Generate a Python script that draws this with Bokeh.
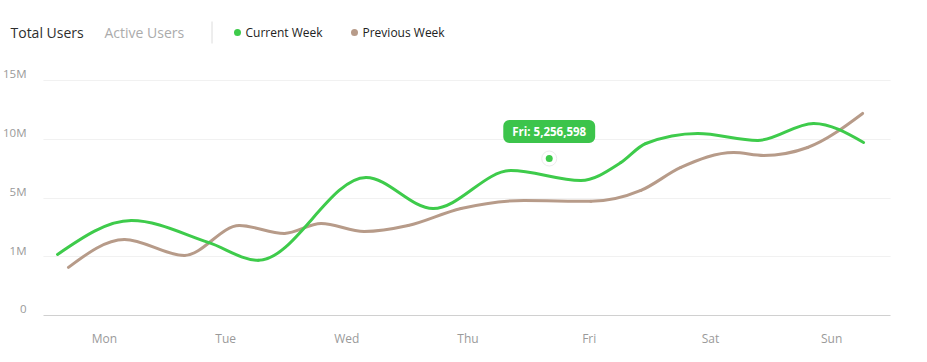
import numpy as np
from bokeh.plotting import figure
from bokeh.layouts import column, row
from bokeh.models import FixedTicker, Label, ColumnDataSource, Range1d, LinearAxis, Grid
from bokeh.core.properties import value
from bokeh.embed import file_html
from bokeh.resources import INLINE

# ---------------- data ----------------
days = ["Mon", "Tue", "Wed", "Thu", "Fri", "Sat", "Sun"]
y_tick_values = [0, 1, 5, 10, 15]          # millions
y_tick_labels = ["0", "1M", "5M", "10M", "15M"]

# positions along the week (0 = Mon ... 6 = Sun) and values in millions
current_x = [-0.387, 0.223, 0.857, 1.269, 2.159, 2.712, 3.354, 3.931, 4.261, 4.467, 4.896, 5.390, 5.852, 6.264]
current_y = [1.16, 3.47, 1.98, 0.94, 6.75, 4.29, 7.35, 6.50, 8.03, 9.65, 10.50, 9.91, 11.36, 9.74]

previous_x = [-0.297, 0.165, 0.659, 1.113, 1.484, 1.788, 2.143, 2.506, 2.942, 3.462, 4.014, 4.426, 4.756, 5.192, 5.440, 5.802, 6.256]
previous_y = [0.82, 2.18, 1.09, 3.13, 2.59, 3.27, 2.72, 3.13, 4.29, 4.84, 4.78, 5.65, 7.61, 8.88, 8.63, 9.31, 12.21]

tooltip_day = "Fri"
tooltip_value = 5256598
tooltip_x = 3.67
tooltip_y = 8.37

tabs = ["Total Users", "Active Users"]
series_names = ["Current Week", "Previous Week"]

GREEN = "#3ecb4b"
BROWN = "#b79b89"
FONT = "Open Sans"


def to_level(v):
    return np.interp(v, y_tick_values, list(range(len(y_tick_values))))


def monotone_bezier(x, y):
    x = np.asarray(x, float)
    y = np.asarray(y, float)
    n = len(x)
    m = np.zeros(n)
    for i in range(1, n - 1):
        h0 = x[i] - x[i - 1]
        h1 = x[i + 1] - x[i]
        s0 = (y[i] - y[i - 1]) / h0
        s1 = (y[i + 1] - y[i]) / h1
        p = (s0 * h1 + s1 * h0) / (h0 + h1)
        sg = (1 if s0 >= 0 else -1) + (1 if s1 >= 0 else -1)
        m[i] = sg * min(abs(s0), abs(s1), 0.5 * abs(p))
    m[0] = (3 * (y[1] - y[0]) / (x[1] - x[0]) - m[1]) / 2
    m[-1] = (3 * (y[-1] - y[-2]) / (x[-1] - x[-2]) - m[-2]) / 2
    h = x[1:] - x[:-1]
    return dict(
        x0=x[:-1], y0=y[:-1], x1=x[1:], y1=y[1:],
        cx0=x[:-1] + h / 3, cy0=y[:-1] + m[:-1] * h / 3,
        cx1=x[1:] - h / 3, cy1=y[1:] - m[1:] * h / 3,
    )


W = 911

# ---------------- header strip ----------------
HW, HH = 480, 54
hdr = figure(width=HW, height=HH, x_range=Range1d(0, HW), y_range=Range1d(HH, 0),
             output_backend="svg", toolbar_location=None, min_border=0,
             x_axis_location=None, y_axis_location=None)
hdr.grid.grid_line_color = None
hdr.outline_line_color = None
hdr.background_fill_color = "white"
hdr.border_fill_color = "white"

hdr.text(x=[10], y=[32], text=[tabs[0]], text_font=value(FONT), text_font_size="14px",
         text_color="#2e2e2e", text_baseline="middle")
hdr.text(x=[104], y=[32], text=[tabs[1]], text_font=value(FONT), text_font_size="14px",
         text_color="#ababab", text_baseline="middle")
hdr.segment(x0=[211.5], y0=[21], x1=[211.5], y1=[43], line_color="#dcdcdc", line_width=1)
hdr.scatter(x=[237, 354], y=[32, 32], size=7, fill_color=[GREEN, BROWN], line_color=None)
hdr.text(x=[245, 362], y=[32, 32], text=series_names, text_font=value(FONT), text_font_size="12px",
         text_color="#222222", text_baseline="middle")

# ---------------- chart ----------------
Y_TOP = 4.31
LABEL_SHIFT = 0.115   # y tick labels sit slightly above their grid lines
p = figure(
    width=W, height=300,
    x_range=(-0.503, 6.486), y_range=(0, Y_TOP),
    output_backend="svg", toolbar_location=None, y_axis_location=None,
    min_border_left=42, min_border_right=W - 890, min_border_top=8, min_border_bottom=39,
)
p.outline_line_color = None
p.background_fill_color = "white"
p.border_fill_color = "white"

p.xaxis.ticker = FixedTicker(ticks=list(range(len(days))))
p.xaxis.major_label_overrides = {i: d for i, d in enumerate(days)}
p.xaxis.axis_line_color = "#d0d0d0"
p.xaxis.axis_line_width = 1
p.xaxis.major_tick_line_color = None
p.xaxis.minor_tick_line_color = None
p.xaxis.major_tick_out = 0
p.xaxis.major_tick_in = 0
p.xaxis.major_label_standoff = 14
p.xaxis.major_label_text_font = FONT
p.xaxis.major_label_text_font_size = "12px"
p.xaxis.major_label_text_color = "#9a9a9a"
p.xgrid.grid_line_color = None

levels = list(range(len(y_tick_values)))
p.extra_y_ranges = {"labels": Range1d(-LABEL_SHIFT, Y_TOP - LABEL_SHIFT)}
yax = LinearAxis(y_range_name="labels", ticker=FixedTicker(ticks=levels),
                 major_label_overrides={i: t for i, t in zip(levels, y_tick_labels)},
                 axis_line_color=None, major_tick_line_color=None, minor_tick_line_color=None,
                 major_tick_out=0, major_tick_in=0, major_label_standoff=17,
                 major_label_text_font=FONT, major_label_text_font_size="11.5px",
                 major_label_text_color="#9a9a9a")
p.add_layout(yax, "left")
p.add_layout(Grid(dimension=1, ticker=FixedTicker(ticks=levels),
                  grid_line_color="#f1f1f1", grid_line_width=1))

prev_src = ColumnDataSource(monotone_bezier(previous_x, to_level(previous_y)))
cur_src = ColumnDataSource(monotone_bezier(current_x, to_level(current_y)))
p.bezier("x0", "y0", "x1", "y1", "cx0", "cy0", "cx1", "cy1", source=prev_src,
         line_color=BROWN, line_width=3, line_cap="round")
p.bezier("x0", "y0", "x1", "y1", "cx0", "cy0", "cx1", "cy1", source=cur_src,
         line_color=GREEN, line_width=3, line_cap="round")

ty = float(to_level(tooltip_y))
p.scatter([tooltip_x], [ty], size=15, fill_color="white", line_color="#ececec", line_width=1)
p.scatter([tooltip_x], [ty], size=7, fill_color=GREEN, line_color=None)

p.add_layout(Label(
    x=tooltip_x, y=ty + 0.46, text=f"{tooltip_day}: {tooltip_value:,}",
    text_align="center", text_baseline="middle",
    text_font=FONT, text_font_size="11.5px", text_font_style="bold", text_color="white",
    background_fill_color="#3cc44b", border_radius=6, padding=(9, 4),
))

layout = column(row(hdr, spacing=0), p, spacing=0)
open("out.html", "w").write(file_html(layout, INLINE))
